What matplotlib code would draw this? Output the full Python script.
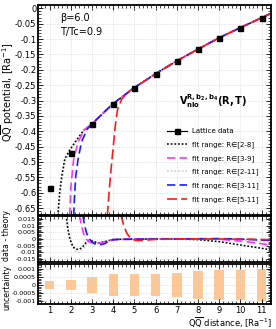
import numpy as np
import matplotlib
matplotlib.use("Agg")
import matplotlib.pyplot as plt
from matplotlib.lines import Line2D
from matplotlib.ticker import MultipleLocator, FormatStrFormatter

# lattice data
R_data = [1, 2, 3, 4, 5, 6, 7, 8, 9, 10, 11]
V_data = [-0.585, -0.472, -0.377, -0.31, -0.258, -0.213, -0.171, -0.133, -0.096, -0.063, -0.031]
unc = [0.00025, 0.0003, 0.0005, 0.00065, 0.0007, 0.0007, 0.00075, 0.00085, 0.0009, 0.0009, 0.001]

# shared tail of the fits (R >= 5)
R_tail = [5, 6, 7, 8, 9, 10, 11, 11.4]
V_tail = [-0.258, -0.213, -0.171, -0.133, -0.096, -0.063, -0.031, -0.018]

# fit curves, top panel
R_28 = [1.38, 1.47, 1.57, 1.71, 1.95, 2.2, 2.6, 3.0, 3.5, 4.0]
V_28 = [-0.675, -0.597, -0.545, -0.49, -0.46, -0.435, -0.397, -0.377, -0.343, -0.31]
R_211 = [1.42, 1.5, 1.6, 1.74, 1.97, 2.22, 2.62, 3.0, 3.5, 4.0]
V_211 = [-0.675, -0.6, -0.55, -0.495, -0.463, -0.437, -0.398, -0.377, -0.343, -0.31]
R_39 = [1.94, 2.0, 2.05, 2.13, 2.34, 2.65, 3.0, 3.5, 4.0]
V_39 = [-0.675, -0.58, -0.545, -0.49, -0.435, -0.394, -0.375, -0.342, -0.31]
R_311 = [2.13, 2.18, 2.23, 2.34, 2.5, 2.76, 3.0, 3.5, 4.0]
V_311 = [-0.675, -0.6, -0.545, -0.49, -0.435, -0.394, -0.376, -0.342, -0.31]
R_511 = [3.72, 3.8, 3.9, 4.0, 4.1, 4.2, 4.4, 4.7]
V_511 = [-0.675, -0.6, -0.52, -0.45, -0.38, -0.33, -0.295, -0.272]

# data - theory, middle panel
dR_28 = [1.77, 1.85, 1.95, 2.1, 2.25, 2.4, 2.55, 2.7, 2.85, 3.0, 3.3, 3.6, 4, 5, 6, 7, 8, 9, 10, 11, 11.4]
dV_28 = [0.018, 0.008, 0.0, -0.006, -0.0077, -0.0078, -0.006, -0.003, -0.001, -0.0015, -0.003, -0.002,
         -0.0003, 0.0, 0.0, 0.0, -0.0005, -0.002, -0.0045, -0.007, -0.008]
dR_211 = [1.8, 1.9, 2.0, 2.15, 2.3, 2.45, 2.6, 2.8, 3.0, 3.3, 3.6, 4, 5, 6, 7, 8, 9, 10, 11, 11.4]
dV_211 = [0.018, 0.006, -0.002, -0.008, -0.0102, -0.0095, -0.007, -0.003, -0.0015, -0.003, -0.002,
          -0.0003, 0.0, 0.0, 0.0, 0.0, -0.0003, -0.0008, -0.0015, -0.002]
dR_39 = [2.4, 2.5, 2.6, 2.75, 2.9, 3.15, 3.4, 3.7, 4, 5, 6, 7, 8, 9, 10, 11, 11.4]
dV_39 = [0.018, 0.01, 0.004, -0.0005, -0.0025, -0.0036, -0.003, -0.0015, -0.0005, 0.0, 0.0001, 0.0002,
         0.0002, -0.0002, -0.0015, -0.0035, -0.0045]
dR_311 = [2.56, 2.65, 2.75, 2.9, 3.1, 3.35, 3.6, 3.85, 4.2, 5, 6, 7, 8, 9, 10, 11, 11.4]
dV_311 = [0.018, 0.01, 0.004, -0.0005, -0.0035, -0.0044, -0.0035, -0.0008, -0.0003, -0.0002, 0.0, 0.0,
          0.0002, 0.0003, 0.0, -0.0008, -0.001]
dR_511 = [4.36, 4.5, 4.65, 4.85, 5.1, 5.4, 6, 7, 8, 9, 10, 11, 11.4]
dV_511 = [0.018, 0.01, 0.004, 0.0, -0.0012, -0.001, -0.0003, 0.0, 0.0001, 0.0, -0.0001, -0.0003, -0.0005]

styles = [
    dict(color="black", ls=(0, (1.2, 1.2)), lw=1.1, label="fit range: R\u2208[2-8]"),
    dict(color="#ff33ff", ls=(0, (5, 2.5)), lw=1.2, label="fit range: R\u2208[3-9]"),
    dict(color="#cccccc", ls=(0, (1.2, 1.2)), lw=1.1, label="fit range: R\u2208[2-11]"),
    dict(color="#1a1aff", ls=(0, (5, 2.5)), lw=1.2, label="fit range: R\u2208[3-11]"),
    dict(color="#ff1a1a", ls=(0, (6, 2.5)), lw=1.2, label="fit range: R\u2208[5-11]"),
]

top_curves = [
    (R_28 + R_tail, V_28 + V_tail),
    (R_39 + R_tail, V_39 + V_tail),
    (R_211 + R_tail, V_211 + V_tail),
    (R_311 + R_tail, V_311 + V_tail),
    (R_511 + R_tail, V_511 + V_tail),
]
mid_curves = [(dR_28, dV_28), (dR_39, dV_39), (dR_211, dV_211), (dR_311, dV_311), (dR_511, dV_511)]
# drawing order: gray first so it sits below the others
order = [2, 0, 1, 3, 4]

fig = plt.figure(figsize=(2.76, 3.29), dpi=100)
L, W = 0.138, 0.844
ax1 = fig.add_axes([L, 0.347, W, 0.638])
ax2 = fig.add_axes([L, 0.203, W, 0.141])
ax3 = fig.add_axes([L, 0.075, W, 0.122])

for ax in (ax1, ax2, ax3):
    ax.set_xlim(0.45, 11.45)
    ax.xaxis.set_major_locator(MultipleLocator(1))
    ax.xaxis.set_minor_locator(MultipleLocator(0.2))
    ax.tick_params(which="both", direction="in", top=True, right=True, labelsize=5.5, pad=2)
    ax.tick_params(which="major", length=3.5, width=0.6)
    ax.tick_params(which="minor", length=2, width=0.5)
    ax.grid(True, which="major", ls=":", lw=0.5, color="#cccccc")
    for s in ax.spines.values():
        s.set_linewidth(1.3)

for i in order:
    x, y = top_curves[i]
    ax1.plot(x, y, **styles[i])
    x, y = mid_curves[i]
    ax2.plot(x, y, **{k: v for k, v in styles[i].items() if k != "label"})
ax1.plot(R_data, V_data, "s", color="black", ms=3.6, zorder=5)

ax1.set_ylim(-0.672, 0.011)
ax1.yaxis.set_major_locator(MultipleLocator(0.05))
ax1.yaxis.set_minor_locator(MultipleLocator(0.01))
ax1.yaxis.set_major_formatter(FormatStrFormatter("%g"))
ax1.tick_params(axis="y", labelsize=6, pad=1.2)
ax1.tick_params(labelbottom=False)

ax1.text(1.5, -0.032, "\u03b2=6.0", fontsize=7, va="center")
ax1.text(1.5, -0.077, "T/Tc=0.9", fontsize=7, va="center")
ax1.text(8.7, -0.302, "$\\mathbf{V^{R,b_2,b_4}_{nlo}(R,T)}$", fontsize=7, ha="center", va="center")

leg_handles = [Line2D([0], [0], color="black", marker="s", ms=3.6, lw=0.9)]
leg_labels = ["Lattice data"]
for st in styles:
    leg_handles.append(Line2D([0], [0], color=st["color"], ls=st["ls"], lw=st["lw"]))
    leg_labels.append(st["label"])
ax1.legend(leg_handles, leg_labels, loc="upper left", bbox_to_anchor=(0.54, 0.425), frameon=False,
           fontsize=5, handlelength=3.0, labelspacing=1.0, handletextpad=0.6, borderaxespad=0)

ax2.set_ylim(-0.0175, 0.0175)
ax2.yaxis.set_major_locator(MultipleLocator(0.005))
ax2.yaxis.set_minor_locator(MultipleLocator(0.001))
ax2.yaxis.set_major_formatter(FormatStrFormatter("%g"))
ax2.tick_params(axis="y", labelsize=4.6, pad=1.5)
ax2.tick_params(labelbottom=False)

ax3.bar(R_data, [2 * u for u in unc], bottom=[-u for u in unc], width=0.45, color="#fdc896")
ax3.set_ylim(-0.00118, 0.00128)
ax3.yaxis.set_major_locator(MultipleLocator(0.0005))
ax3.yaxis.set_minor_locator(MultipleLocator(0.0001))
ax3.yaxis.set_major_formatter(FormatStrFormatter("%g"))
ax3.tick_params(axis="y", labelsize=4.6, pad=1.5)
ax3.tick_params(axis="x", labelsize=6, pad=1.5)

# axis titles placed in figure coordinates
fig.text(0.028, 0.72, "Q$\\overline{\\rm Q}$ potential, [Ra$^{-1}$]", fontsize=7,
         rotation=90, ha="center", va="center")
fig.text(0.024, 0.285, "data - theory", fontsize=5.6, rotation=90, ha="center", va="center")
fig.text(0.024, 0.128, "uncertainty", fontsize=5.6, rotation=90, ha="center", va="center")
fig.text(0.985, 0.006, "Q$\\overline{\\rm Q}$ distance, [Ra$^{-1}$]", fontsize=6,
         ha="right", va="baseline")

fig.savefig("out.png", dpi=100)
